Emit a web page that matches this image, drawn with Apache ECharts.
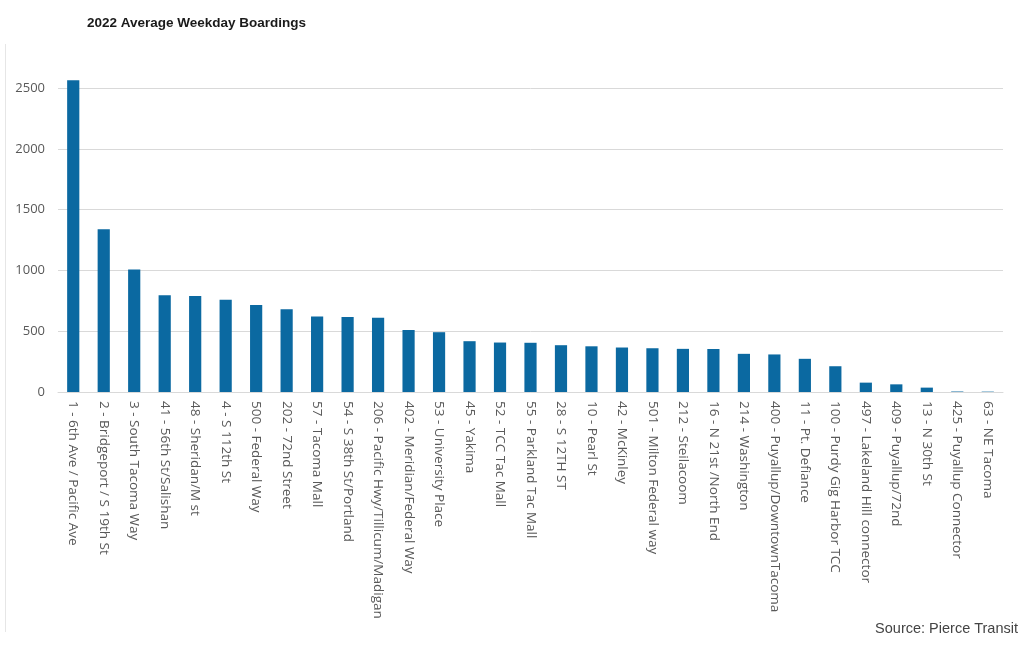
<!DOCTYPE html>
<html>
<head>
<meta charset="utf-8">
<script src="https://cdn.jsdelivr.net/npm/echarts@6/dist/echarts.min.js"></script>
<style>html,body{margin:0;padding:0;background:#fff}#c{width:1024px;height:647px}</style>
</head>
<body>
<div id="c"></div>
<script>
const categories = [
  "1 - 6th Ave / Pacific Ave", "2 - Bridgeport / S 19th St", "3 - South Tacoma Way",
  "41 - 56th St/Salishan", "48 - Sheridan/M st", "4 - S 112th St", "500 - Federal Way",
  "202 - 72nd Street", "57 - Tacoma Mall", "54 - S 38th St/Portland",
  "206 - Pacific Hwy/Tillicum/Madigan", "402 - Meridian/Federal Way", "53 - University Place",
  "45 - Yakima", "52 - TCC Tac Mall", "55 - Parkland Tac Mall", "28 - S 12TH ST",
  "10 - Pearl St", "42 - McKinley", "501 - Milton Federal way", "212 - Steilacoom",
  "16 - N 21st /North End", "214 - Washington", "400 - Puyallup/DowntownTacoma",
  "11 - Pt. Defiance", "100 - Purdy Gig Harbor TCC", "497 - Lakeland Hill connector",
  "409 - Puyallup/72nd", "13 - N 30th St", "425 - Puyallup Connector", "63 - NE Tacoma"
];
const boardings = [
  2565, 1340, 1007, 796, 790, 760, 715, 680, 622, 618,
  610, 510, 492, 418, 407, 405, 385, 376, 366, 360,
  355, 354, 314, 309, 273, 212, 77, 63, 36, 4, 3
];
const yTicks = [0, 500, 1000, 1500, 2000, 2500];

const chart = echarts.init(document.getElementById('c'), null, {renderer: 'canvas'});
chart.setOption({
  animation: false,
  title: {
    text: '2022 Average Weekday Boardings',
    left: 82, top: 11,
    textStyle: {fontFamily: 'Liberation Sans', fontWeight: 'bold', fontSize: 13.5, color: '#1a1a1a'}
  },
  graphic: [
    {type: 'line', shape: {x1: 5.5, y1: 44, x2: 5.5, y2: 632}, style: {stroke: '#e6e6e6', lineWidth: 1}},
    {type: 'text', right: 6, top: 621,
     style: {text: 'Source: Pierce Transit', font: '14.5px "Liberation Sans"', fill: '#444'}}
  ],
  grid: {left: 58, right: 21, top: 76, bottom: 255, containLabel: false},
  xAxis: {
    type: 'category',
    data: categories,
    axisTick: {show: false},
    axisLine: {lineStyle: {color: '#d9d9d9'}},
    axisLabel: {
      rotate: -90, interval: 0, margin: 9,
      color: '#595959', fontFamily: 'Open Sans', fontSize: 13.5
    }
  },
  yAxis: {
    type: 'value',
    min: yTicks[0], max: 2600, interval: yTicks[1] - yTicks[0],
    axisLine: {show: false},
    axisTick: {show: false},
    splitLine: {show: true, showMaxLine: false, lineStyle: {color: '#d9d9d9'}},
    axisLabel: {
      showMaxLabel: false, margin: 13,
      formatter: v => String(v),
      color: '#595959', fontFamily: 'Open Sans', fontSize: 13
    }
  },
  series: [{
    type: 'bar',
    data: boardings,
    barWidth: '40%',
    itemStyle: {color: '#0b69a1'}
  }]
});
</script>
</body>
</html>
